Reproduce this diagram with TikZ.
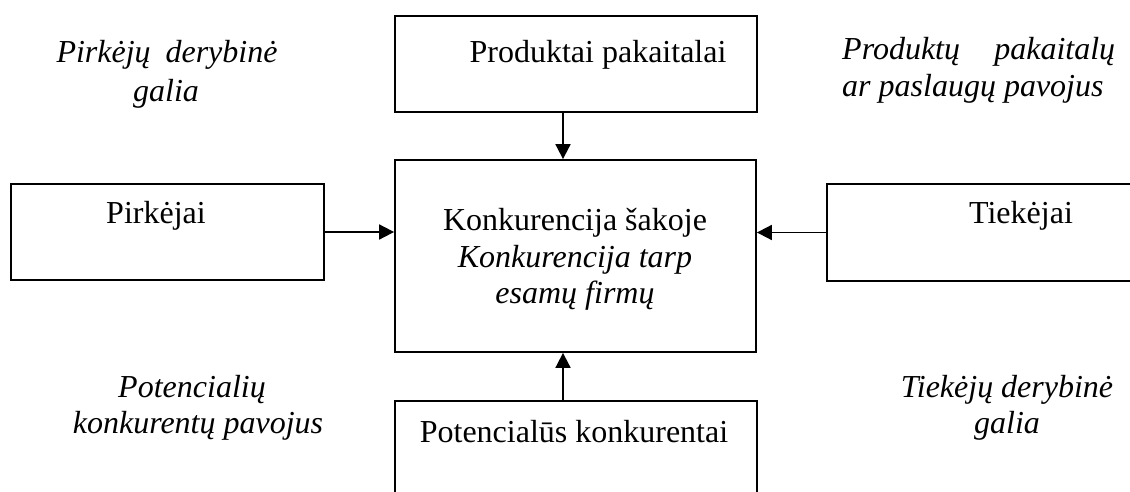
\documentclass[tikz,border=0pt]{standalone}
\usepackage{fontspec}
\setmainfont{Liberation Serif}
\usetikzlibrary{arrows.meta}
\begin{document}
\begin{tikzpicture}[x=1pt,y=-1pt,
  frame/.style={draw, line width=1.8pt, inner sep=0pt},
  txt/.style={anchor=base, inner sep=0pt, font=\fontsize{32}{37}\selectfont},
  lbl/.style={txt, font=\fontsize{32}{37}\selectfont\itshape},
  flow/.style={line width=1.8pt, -{Triangle[length=15pt,width=15pt]}}]
% page area (boxes running past the edge are cut off)
\clip (0,0) rectangle (1130,492);

% boxes
\node[frame, minimum width=362pt, minimum height=96pt]  (prod) at (576,64) {};
\node[frame, minimum width=361pt, minimum height=192pt] (konk) at (575.5,256) {};
\node[frame, minimum width=313pt, minimum height=96pt]  (pirk) at (167.5,232) {};
\node[frame, minimum width=330pt, minimum height=97pt]  (tiek) at (992,232.5) {};
\node[frame, minimum width=362pt, minimum height=130pt] (pot)  at (576,466) {};

% box texts
\node[txt] (prodT) at (598,63) {Produktai pakaitalai};
\node[txt] (pirkT) at (156,223) {Pirkėjai};
\node[txt] (tiekT) at (1021,223) {Tiekėjai};
\node[txt] (konkT1) at (575,230) {Konkurencija šakoje};
\node[lbl] (konkT2) at (575,267) {Konkurencija tarp};
\node[lbl] (konkT3) at (575,303) {esamų firmų};
\node[txt] (potT) at (574,442) {Potencialūs konkurentai};

% forces
\node[lbl] (pg1) at (167,63) {\hbox to 221pt{Pirkėjų\hfill derybinė}};
\node[lbl] (pg2) at (166,102) {galia};
\node[lbl, anchor=base west] (pp1) at (842,60) {\hbox to 273pt{Produktų\hfill pakaitalų}};
\node[lbl, anchor=base west] (pp2) at (842,97) {ar paslaugų pavojus};
\node[lbl] (pk1) at (192,397) {Potencialių};
\node[lbl] (pk2) at (198,433) {konkurentų pavojus};
\node[lbl] (tg1) at (1007,397) {Tiekėjų derybinė};
\node[lbl] (tg2) at (1007,433) {galia};

% connectors
\draw[flow] ([xshift=-13pt]prod.south) -- ([xshift=-12.5pt]konk.north);
\draw[flow] ([xshift=-13pt]pot.north) -- ([xshift=-12.5pt]konk.south);
\draw[flow] (pirk.east) -- (pirk.east -| konk.west);
\draw[flow] (tiek.west) -- (tiek.west -| konk.east);
\end{tikzpicture}
\end{document}
